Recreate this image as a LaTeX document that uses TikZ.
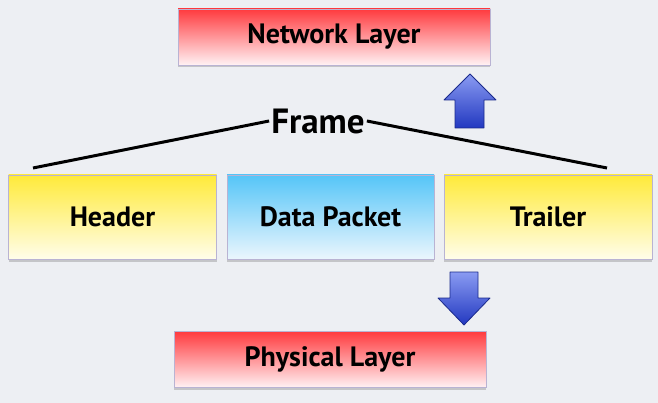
\documentclass[tikz,border=0pt]{standalone}
\usepackage{fontspec}
\setmainfont{PT Sans}
\usetikzlibrary{shadows}
\definecolor{bg}{HTML}{EDEFF3}
\definecolor{redtop}{HTML}{FF3A3E}
\definecolor{redbot}{HTML}{FFF2F4}
\definecolor{yeltop}{HTML}{FFEA3A}
\definecolor{yelbot}{HTML}{FFFDEA}
\definecolor{blutop}{HTML}{55C5F8}
\definecolor{blubot}{HTML}{EBF6FD}
\definecolor{edge}{HTML}{B9B3D3}
\definecolor{arrtop}{HTML}{8A9BF2}
\definecolor{arrbot}{HTML}{2238C0}
\definecolor{arredge}{HTML}{1A2A8C}
\tikzset{
  box/.style={draw=edge, line width=0.6pt, minimum height=84pt, inner sep=0pt,
    drop shadow={shadow xshift=0pt, shadow yshift=-2.5pt, opacity=0.3, fill=black!60}},
  layerbox/.style={box, top color=redtop, bottom color=redbot, minimum width=312pt, minimum height=56pt},
  yelbox/.style={box, top color=yeltop, bottom color=yelbot, minimum width=208pt},
  blubox/.style={box, top color=blutop, bottom color=blubot, minimum width=207pt},
  lbl/.style={font=\bfseries\fontsize{28}{28}\selectfont, text=black},
  bigarrow/.style={draw=arredge, line width=0.8pt, line join=round, top color=arrtop, bottom color=arrbot},
  frameline/.style={line width=3pt, black},
}
\begin{document}
\begin{tikzpicture}[x=1pt,y=-1pt]
\fill[bg] (0,0) rectangle (658,403);
\useasboundingbox (0,0) rectangle (658,403);

\node[layerbox] (net) at (334,37) {};
\node[lbl] at (net.center) (nettxt) {Network Layer};

\node[layerbox] (phy) at (330,359.5) {};
\node[lbl] at (phy.center) (phytxt) {Physical Layer};

\node[yelbox] (hdr) at (112.5,217) {};
\node[lbl] at (hdr.center) (hdrtxt) {Header};
\node[blubox] (data) at (330.5,217) {};
\node[lbl] at (data.center) (datatxt) {Data Packet};
\node[yelbox] (trl) at (548,217) {};
\node[lbl] at (trl.center) (trltxt) {Trailer};

\node[font=\bfseries\fontsize{35}{35}\selectfont, inner sep=2pt] (frame) at (318,121) {Frame};
\coordinate (fl) at (33,168);
\coordinate (fr) at (607,168);
\draw[frameline] (fl) -- (frame.west);
\draw[frameline] (frame.east) -- (fr);

% up arrow
\path[bigarrow] (470,74) -- (496,100) -- (484,100) -- (484,128) -- (455,128) -- (455,100) -- (444,100) -- cycle;
% down arrow
\path[bigarrow] (464,325) -- (490,298) -- (478,298) -- (478,272) -- (450,272) -- (450,298) -- (438,298) -- cycle;
\end{tikzpicture}
\end{document}
